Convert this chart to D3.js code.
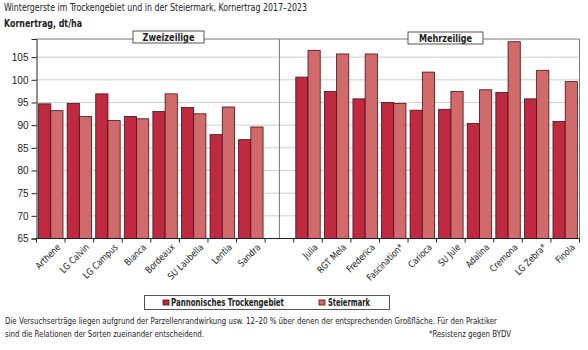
<!DOCTYPE html>
<html><head><meta charset="utf-8">
<script src="https://cdn.jsdelivr.net/npm/d3@7"></script>
<style>
body{margin:0;background:#fff;}
svg{display:block;font-family:"Liberation Sans Narrow","DejaVu Sans Condensed","Liberation Sans",sans-serif;}
</style></head><body>
<script>
const categoriesLeft = ["Arthene","LG Calvin","LG Campus","Bianca","Bordeaux","SU Laubella","Lentia","Sandra"];
const categoriesRight = ["Julia","RGT Mela","Frederica","Fascination*","Carioca","SU Jule","Adalina","Cremona","LG Zebra*","Finola"];
const pannonLeft = [94.7,94.8,96.9,91.9,93.0,93.9,87.9,86.8];
const steierLeft = [93.2,91.9,91.0,91.4,96.9,92.5,94.0,89.6];
const pannonRight = [100.6,97.4,95.8,95.0,93.3,93.5,90.4,97.2,95.8,90.8];
const steierRight = [106.5,105.7,105.7,94.8,101.7,97.4,97.8,108.4,102.1,99.6];
const yTicks = [65,70,75,80,85,90,95,100,105];
const seriesNames = ["Pannonisches Trockengebiet","Steiermark"];
const groupNames = ["Zweizeilige","Mehrzeilige"];

(function(){
const W=588,H=350;
const colors=["#bf2a40","#d16a6b"];
const stroke="#4a0e14";
const svg=d3.select("body").append("svg").attr("width",W).attr("height",H);

function fit(t,w){const L=t.node().getComputedTextLength(); if(L>w) t.attr("textLength",w).attr("lengthAdjust","spacingAndGlyphs"); return t;}

const pL=36.5,pR=579.5,pT=39,pB=238.5;
const gap="__gap__";
const allCats=[...categoriesLeft,gap,...categoriesRight];
const rows=[...categoriesLeft.map((c,i)=>({c,v:[pannonLeft[i],steierLeft[i]]})),
            ...categoriesRight.map((c,i)=>({c,v:[pannonRight[i],steierRight[i]]}))];

const x=d3.scaleBand().domain(allCats).range([pL,pR]).paddingInner(0).paddingOuter(0);
const y=d3.scaleLinear().domain([65,109]).range([pB,pT]);
const inner=d3.scaleBand().domain([0,1]).range([0,x.bandwidth()]).paddingOuter(0.17).paddingInner(0);

// title
fit(svg.append("text").attr("x",4).attr("y",11).attr("font-size",9.8).attr("fill","#222")
  .text("Wintergerste im Trockengebiet und in der Steiermark, Kornertrag 2017–2023"),303);
fit(svg.append("text").attr("x",4).attr("y",27).attr("font-size",10).attr("font-weight","bold").attr("fill","#222")
  .text("Kornertrag, dt/ha"),78);

// grid
svg.append("g").selectAll("line").data(yTicks.filter(t=>t>65)).join("line")
  .attr("x1",pL).attr("x2",pR).attr("y1",d=>y(d)).attr("y2",d=>y(d))
  .attr("stroke","#cfcfcf").attr("stroke-width",1);

// frame
svg.append("line").attr("x1",pL).attr("x2",pR).attr("y1",pT).attr("y2",pT).attr("stroke","#777");
svg.append("line").attr("x1",pR).attr("x2",pR).attr("y1",pT).attr("y2",pB).attr("stroke","#777");
const divX=x(gap)+x.bandwidth()/2;
svg.append("line").attr("x1",divX).attr("x2",divX).attr("y1",pT).attr("y2",pB).attr("stroke","#777");

// bars
const g=svg.append("g");
rows.forEach(r=>{
  r.v.forEach((v,k)=>{
    g.append("rect").attr("x",x(r.c)+inner(k)).attr("width",inner.bandwidth())
      .attr("y",y(v)).attr("height",pB-y(v))
      .attr("fill",colors[k]).attr("stroke",stroke).attr("stroke-width",0.8);
  });
});

// y axis
const ya=svg.append("g").attr("transform",`translate(${pL},0)`)
  .call(d3.axisLeft(y).tickValues(yTicks).tickSize(5).tickPadding(3));
ya.select(".domain").attr("stroke","#222");
ya.selectAll("line").attr("stroke","#222");
ya.selectAll("text").attr("font-size",10).attr("fill","#222").attr("font-family","'Liberation Sans',sans-serif");

// x axis
svg.append("line").attr("x1",pL).attr("x2",pR).attr("y1",pB).attr("y2",pB).attr("stroke","#222");
const bounds=allCats.map(c=>x(c)).concat([pR]);
svg.append("g").selectAll("line").data(bounds).join("line")
  .attr("x1",d=>d).attr("x2",d=>d).attr("y1",pB).attr("y2",pB+4).attr("stroke","#222");
svg.append("g").selectAll("text").data(rows).join("text")
  .attr("transform",d=>`translate(${x(d.c)+x.bandwidth()/2+8},${pB+7}) rotate(-45)`)
  .attr("text-anchor","end").attr("dy","0.35em").attr("font-size",9.4).attr("fill","#222")
  .text(d=>d.c)
  .each(function(){const t=d3.select(this);const L=this.getComputedTextLength();t.attr("textLength",L*0.92).attr("lengthAdjust","spacingAndGlyphs");});

// group labels
const gl=[{t:groupNames[0],x0:133,x1:204,y0:31,y1:43,w:52},{t:groupNames[1],x0:408,x1:483,y0:32,y1:44,w:53}];
gl.forEach(d=>{
  svg.append("rect").attr("x",d.x0).attr("y",d.y0).attr("width",d.x1-d.x0).attr("height",d.y1-d.y0)
    .attr("fill","#fff").attr("stroke","#444").attr("stroke-width",0.9);
  fit(svg.append("text").attr("x",(d.x0+d.x1)/2).attr("y",(d.y0+d.y1)/2).attr("dy","0.36em")
    .attr("text-anchor","middle").attr("font-size",10.5).attr("font-weight","bold").attr("fill","#222").text(d.t),d.w);
});

// legend
svg.append("rect").attr("x",144.5).attr("y",295.5).attr("width",245).attr("height",14)
  .attr("fill","#fff").attr("stroke","#444").attr("stroke-width",0.9);
const lx=[163,319], tx=[171,328], tw=[113,42];
seriesNames.forEach((s,k)=>{
  svg.append("rect").attr("x",lx[k]).attr("y",300).attr("width",6).attr("height",5)
    .attr("fill",colors[k]).attr("stroke",stroke).attr("stroke-width",0.8);
  fit(svg.append("text").attr("x",tx[k]).attr("y",302.5).attr("dy","0.36em").attr("font-size",10)
    .attr("font-weight","bold").attr("fill","#222").text(s),tw[k]);
});

// footnotes
fit(svg.append("text").attr("x",5).attr("y",324).attr("font-size",9.1).attr("fill","#222")
  .text("Die Versuchserträge liegen aufgrund der Parzellenrandwirkung usw. 12–20 % über denen der entsprechenden Großfläche. Für den Praktiker"),492);
fit(svg.append("text").attr("x",5).attr("y",337).attr("font-size",9.1).attr("fill","#222")
  .text("sind die Relationen der Sorten zueinander entscheidend."),199);
fit(svg.append("text").attr("text-anchor","end").attr("font-size",9.1).attr("fill","#222")
  .attr("x",511).attr("y",337).text("*Resistenz gegen BYDV"),82);
})();
</script>
</body></html>
